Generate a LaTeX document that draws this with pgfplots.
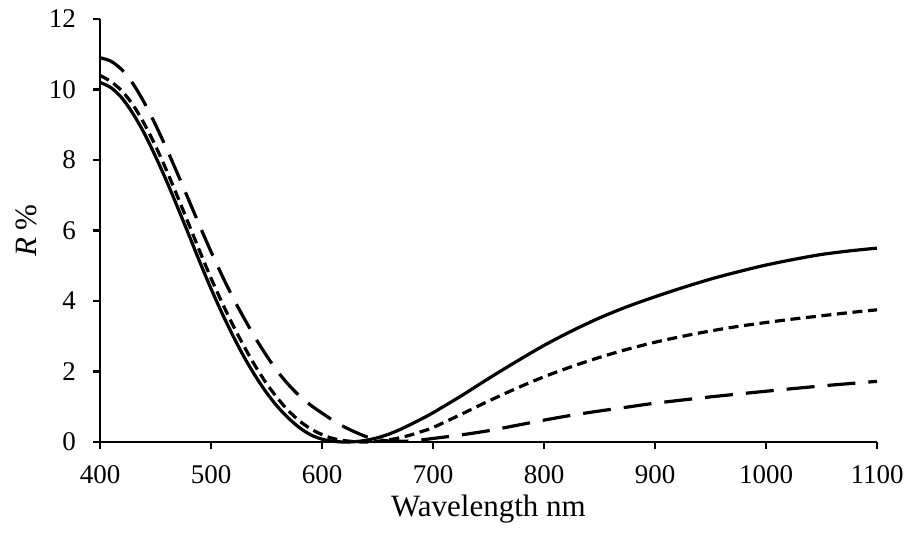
\documentclass[border=0pt]{standalone}
\usepackage{fontspec}
\setmainfont{Liberation Serif}
\usepackage{pgfplots}
\pgfplotsset{compat=1.18}
\begin{document}
\begin{tikzpicture}
\begin{axis}[
  scale only axis,
  width=388.5pt, height=211.5pt,
  xmin=400, xmax=1100, ymin=0, ymax=12,
  axis x line=bottom, axis y line=left,
  axis line style={-, line width=1.1pt},
  xtick={400,500,...,1100}, ytick={0,2,...,12},
  tick align=outside, major tick length=3.5pt,
  tick style={line width=1.1pt, black},
  minor tick num=0,
  /pgf/number format/assume math mode=true,
  /pgf/number format/1000 sep={},
  ticklabel style={font=\fontsize{13.5}{15}\selectfont},
  xticklabel style={yshift=-4.5pt},
  yticklabel style={xshift=-5pt},
  xlabel={Wavelength nm},
  ylabel={\textit{R} \%},
  label style={font=\fontsize{15.5}{17}\selectfont},
  xlabel style={at={(axis description cs:0.5,0)}, anchor=base, yshift=-37pt},
  ylabel style={at={(axis description cs:-0.095,0.5)}, anchor=center},
  clip=false,
]
\addplot[black, line width=1.6pt, smooth] coordinates {
(400,10.2) (410,10.05) (420,9.75) (430,9.3) (440,8.75) (450,8.1) (460,7.4) (470,6.65)
(480,5.88) (490,5.1) (500,4.35) (510,3.65) (520,3.0) (530,2.4) (540,1.87) (550,1.4)
(560,1.0) (570,0.67) (580,0.4) (590,0.2) (600,0.08) (610,0.02) (620,0.0) (630,0.01)
(640,0.05) (650,0.12) (660,0.22) (670,0.35) (680,0.5) (690,0.66) (700,0.83)
(725,1.3) (750,1.8) (775,2.28) (800,2.74) (825,3.15) (850,3.52) (875,3.84) (900,4.12)
(925,4.38) (950,4.62) (975,4.83) (1000,5.02) (1025,5.18) (1050,5.32) (1075,5.42) (1100,5.5)};
\addplot[black, line width=1.6pt, smooth, dash pattern=on 5pt off 2.8pt] coordinates {
(400,10.4) (410,10.22) (420,9.95) (430,9.55) (440,9.02) (450,8.4) (460,7.7) (470,6.95)
(480,6.18) (490,5.4) (500,4.65) (510,3.95) (520,3.3) (530,2.7) (540,2.15) (550,1.66)
(560,1.24) (570,0.88) (580,0.59) (590,0.37) (600,0.21) (610,0.1) (620,0.04) (630,0.01)
(640,0.0) (650,0.02) (660,0.06) (670,0.12) (680,0.2) (690,0.3) (700,0.41)
(725,0.78) (750,1.16) (775,1.52) (800,1.85) (825,2.14) (850,2.4) (875,2.63) (900,2.83)
(925,3.0) (950,3.15) (975,3.28) (1000,3.39) (1025,3.49) (1050,3.58) (1075,3.67) (1100,3.75)};
\addplot[black, line width=1.6pt, smooth, dash pattern=on 14pt off 6.5pt] coordinates {
(400,10.9) (410,10.8) (420,10.55) (430,10.15) (440,9.62) (450,9.0) (460,8.32) (470,7.6)
(480,6.86) (490,6.12) (500,5.4) (510,4.72) (520,4.08) (530,3.5) (540,2.95) (550,2.45)
(560,2.0) (570,1.62) (580,1.3) (590,1.04) (600,0.82) (610,0.61) (620,0.43) (630,0.28)
(640,0.15) (650,0.07) (660,0.03) (670,0.02) (680,0.03) (690,0.06) (700,0.1)
(725,0.2) (750,0.32) (775,0.47) (800,0.62) (825,0.76) (850,0.88) (875,0.99) (900,1.1)
(950,1.28) (1000,1.44) (1050,1.59) (1100,1.72)};
\end{axis}
\pgfresetboundingbox
\path[use as bounding box] ([xshift=-50pt,yshift=-45.5pt]current axis.south west) rectangle ([xshift=15pt,yshift=9.5pt]current axis.north east);
\end{tikzpicture}
\end{document}
